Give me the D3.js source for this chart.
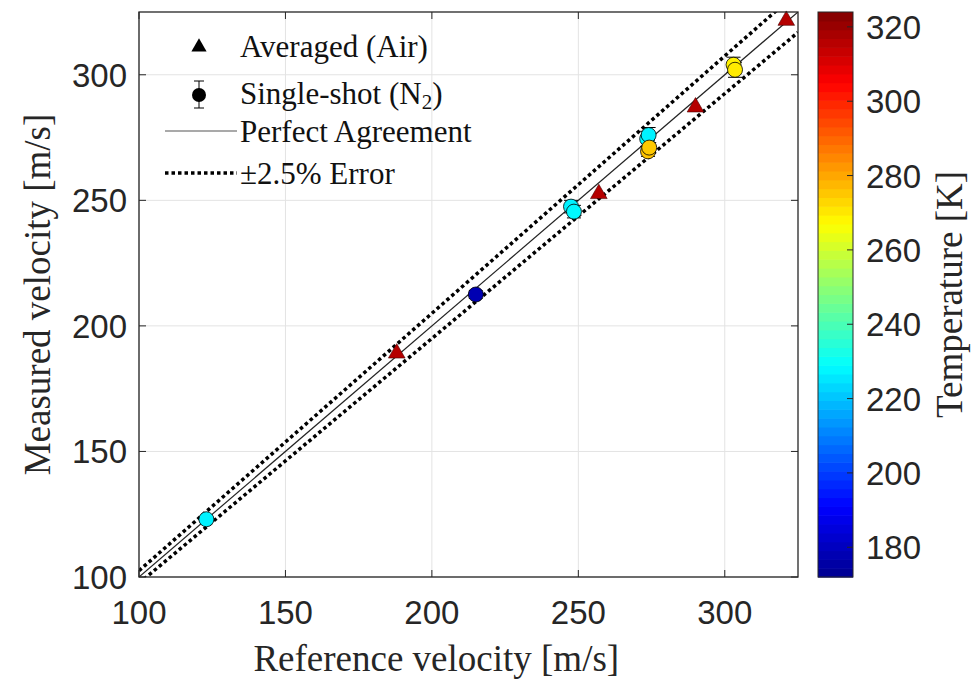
<!DOCTYPE html>
<html>
<head>
<meta charset="utf-8">
<script src="https://cdn.jsdelivr.net/npm/d3@7"></script>
<style>
  body { margin: 0; background: #fff; }
  svg { display: block; }
</style>
</head>
<body>
<svg id="chart" width="977" height="681"></svg>
<script>
// Averaged (Air) measurements - triangles
const triRef = [188, 257, 290, 321];
const triMeas = [189.5, 253, 287.5, 322];
const triTemp = [316, 316, 316, 316];

// Single-shot (N2) measurements - circles with error bars
const shotRef = [123, 215, 247.5, 248.5, 273.5, 274, 273.8, 274.2, 303, 303.5];
const shotMeas = [123, 212.5, 247.5, 245.5, 274.5, 276, 269.5, 271, 304, 302];
const shotErr = [1, 1.5, 2.5, 2.5, 3, 3, 2, 2, 3, 3];
const shotTemp = [227, 178, 227, 228, 228, 227, 276, 275, 269, 270];

const xTicks = [100, 150, 200, 250, 300];
const yTicks = [100, 150, 200, 250, 300];
const cTicks = [180, 200, 220, 240, 260, 280, 300, 320];

const svg = d3.select('#chart');

const pL = 139, pR = 798, pT = 12, pB = 577;
const x = d3.scaleLinear().domain([100, 325]).range([pL, pR]);
const y = d3.scaleLinear().domain([100, 325]).range([pB, pT]);

// jet colormap
const jet = d3.scaleLinear()
  .domain([0, 0.125, 0.375, 0.625, 0.875, 1])
  .range(['#00008f', '#0000ff', '#00ffff', '#ffff00', '#ff0000', '#800000'])
  .clamp(true);
const tMin = 172, tMax = 324;
const color = t => jet((t - tMin) / (tMax - tMin));

// grid
svg.append('g').selectAll('line').data(xTicks).enter().append('line')
  .attr('x1', d => x(d)).attr('x2', d => x(d))
  .attr('y1', pT).attr('y2', pB)
  .attr('stroke', '#e3e3e3').attr('stroke-width', 1);
svg.append('g').selectAll('line').data(yTicks).enter().append('line')
  .attr('y1', d => y(d)).attr('y2', d => y(d))
  .attr('x1', pL).attr('x2', pR)
  .attr('stroke', '#e3e3e3').attr('stroke-width', 1);

// clip for lines
svg.append('clipPath').attr('id', 'clip')
  .append('rect').attr('x', pL).attr('y', pT)
  .attr('width', pR - pL).attr('height', pB - pT);

const lineVals = [100, 325];
const line = f => d3.line().x(d => x(d)).y(d => y(f(d)))(lineVals);

const lines = svg.append('g').attr('clip-path', 'url(#clip)');
lines.append('path').attr('d', line(d => d))
  .attr('fill', 'none').attr('stroke', '#222').attr('stroke-width', 1.2);
[1.025, 0.975].forEach(k => {
  lines.append('path').attr('d', line(d => d * k))
    .attr('fill', 'none').attr('stroke', '#000').attr('stroke-width', 3.5)
    .attr('stroke-dasharray', '3.5,3');
});

// single-shot error bars + circles
const shots = shotRef.map((r, i) => ({ r, m: shotMeas[i], e: shotErr[i], t: shotTemp[i] }));
const eb = svg.append('g');
shots.forEach(d => {
  const cx = x(d.r);
  eb.append('line').attr('x1', cx).attr('x2', cx)
    .attr('y1', y(d.m - d.e)).attr('y2', y(d.m + d.e))
    .attr('stroke', '#000').attr('stroke-width', 1);
  [d.m - d.e, d.m + d.e].forEach(v => {
    eb.append('line').attr('x1', cx - 7).attr('x2', cx + 7)
      .attr('y1', y(v)).attr('y2', y(v))
      .attr('stroke', '#000').attr('stroke-width', 1);
  });
});
svg.append('g').selectAll('circle').data(shots).enter().append('circle')
  .attr('cx', d => x(d.r)).attr('cy', d => y(d.m)).attr('r', 7.5)
  .attr('fill', d => color(d.t)).attr('stroke', '#000').attr('stroke-width', 0.8);

// averaged triangles
const tris = triRef.map((r, i) => ({ r, m: triMeas[i], t: triTemp[i] }));
svg.append('g').selectAll('path').data(tris).enter().append('path')
  .attr('d', d3.symbol().type(d3.symbolTriangle).size(120))
  .attr('transform', d => `translate(${x(d.r)},${y(d.m) + 1})`)
  .attr('fill', d => color(d.t)).attr('stroke', '#4a0000').attr('stroke-width', 0.6);

// axes box and inside ticks
svg.append('rect').attr('x', pL).attr('y', pT)
  .attr('width', pR - pL).attr('height', pB - pT)
  .attr('fill', 'none').attr('stroke', '#262626').attr('stroke-width', 1.3);
const tk = svg.append('g').attr('stroke', '#262626').attr('stroke-width', 1);
xTicks.forEach(v => {
  tk.append('line').attr('x1', x(v)).attr('x2', x(v)).attr('y1', pB).attr('y2', pB - 7);
  tk.append('line').attr('x1', x(v)).attr('x2', x(v)).attr('y1', pT).attr('y2', pT + 7);
});
yTicks.forEach(v => {
  tk.append('line').attr('y1', y(v)).attr('y2', y(v)).attr('x1', pL).attr('x2', pL + 7);
  tk.append('line').attr('y1', y(v)).attr('y2', y(v)).attr('x1', pR).attr('x2', pR - 7);
});

// tick labels
const sans = 'Liberation Sans, Arial, sans-serif';
const serif = 'Liberation Serif, DejaVu Serif, serif';
svg.append('g').selectAll('text').data(xTicks).enter().append('text')
  .attr('x', d => x(d)).attr('y', 624)
  .attr('text-anchor', 'middle').attr('font-family', sans).attr('font-size', 33)
  .attr('fill', '#262626').text(d => d);
svg.append('g').selectAll('text').data(yTicks).enter().append('text')
  .attr('x', 127).attr('y', d => y(d) + 12)
  .attr('text-anchor', 'end').attr('font-family', sans).attr('font-size', 33)
  .attr('fill', '#262626').text(d => d);

// axis titles
svg.append('text').attr('x', x(201.5)).attr('y', 671)
  .attr('text-anchor', 'middle').attr('font-family', serif).attr('font-size', 37)
  .attr('fill', '#262626').text('Reference velocity [m/s]');
svg.append('text').attr('transform', `translate(50,${(pT + pB) / 2}) rotate(-90)`)
  .attr('text-anchor', 'middle').attr('font-family', serif).attr('font-size', 37)
  .attr('fill', '#262626').text('Measured velocity [m/s]');

// legend
const lg = svg.append('g').attr('font-family', serif).attr('font-size', 31).attr('fill', '#111');
lg.append('path').attr('d', d3.symbol().type(d3.symbolTriangle).size(100))
  .attr('transform', 'translate(199,47)').attr('fill', '#000');
lg.append('text').attr('x', 240).attr('y', 57).text('Averaged (Air)');
lg.append('line').attr('x1', 199).attr('x2', 199).attr('y1', 81).attr('y2', 108).attr('stroke', '#000');
lg.append('line').attr('x1', 194).attr('x2', 204).attr('y1', 81).attr('y2', 81).attr('stroke', '#000');
lg.append('line').attr('x1', 194).attr('x2', 204).attr('y1', 108).attr('y2', 108).attr('stroke', '#000');
lg.append('circle').attr('cx', 199).attr('cy', 95).attr('r', 7).attr('fill', '#000');
const t2 = lg.append('text').attr('x', 240).attr('y', 104);
t2.append('tspan').text('Single-shot (N');
t2.append('tspan').attr('font-size', 21).attr('dy', 5).text('2');
t2.append('tspan').attr('dy', -5).text(')');
lg.append('line').attr('x1', 165).attr('x2', 237).attr('y1', 131).attr('y2', 131)
  .attr('stroke', '#555').attr('stroke-width', 1.2);
lg.append('text').attr('x', 240).attr('y', 142).text('Perfect Agreement');
lg.append('line').attr('x1', 165).attr('x2', 237).attr('y1', 173).attr('y2', 173)
  .attr('stroke', '#000').attr('stroke-width', 3.5).attr('stroke-dasharray', '3.5,3');
lg.append('text').attr('x', 240).attr('y', 184).text('±2.5% Error');

// colorbar
const cbL = 818, cbR = 853;
const cy = d3.scaleLinear().domain([tMin, tMax]).range([pB, pT]);
const nBands = 64;
const bands = d3.range(nBands);
svg.append('g').selectAll('rect').data(bands).enter().append('rect')
  .attr('x', cbL).attr('width', cbR - cbL)
  .attr('y', i => cy(tMin + (i + 1) * (tMax - tMin) / nBands))
  .attr('height', (pB - pT) / nBands + 0.6)
  .attr('fill', i => jet((i + 0.5) / nBands));
svg.append('rect').attr('x', cbL).attr('y', pT).attr('width', cbR - cbL).attr('height', pB - pT)
  .attr('fill', 'none').attr('stroke', '#262626').attr('stroke-width', 1);
const ctk = svg.append('g').attr('stroke', '#262626').attr('stroke-width', 1);
cTicks.forEach(v => {
  ctk.append('line').attr('x1', cbR).attr('x2', cbR - 6).attr('y1', cy(v)).attr('y2', cy(v));
});
svg.append('g').selectAll('text').data(cTicks).enter().append('text')
  .attr('x', 866).attr('y', d => cy(d) + 12)
  .attr('font-family', sans).attr('font-size', 33).attr('fill', '#262626').text(d => d);
svg.append('text').attr('transform', `translate(962,${(pT + pB) / 2}) rotate(-90)`)
  .attr('text-anchor', 'middle').attr('font-family', serif).attr('font-size', 37)
  .attr('fill', '#262626').text('Temperature [K]');
</script>
</body>
</html>
